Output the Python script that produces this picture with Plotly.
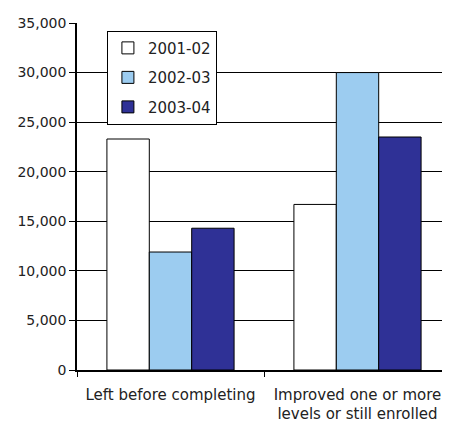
import plotly.graph_objects as go

categories = ["Left before completing", "Improved one or more<br>levels or still enrolled"]
series_names = ["2001-02", "2002-03", "2003-04"]
values_2001 = [23300, 16700]
values_2002 = [11900, 30000]
values_2003 = [14300, 23500]
colors = ["#FFFFFF", "#9CCCF0", "#2F3196"]

fig = go.Figure()
for i, (name, vals) in enumerate(zip(series_names, [values_2001, values_2002, values_2003])):
    fig.add_trace(go.Bar(
        x=categories, y=vals, name=name, legendgroup=name,
        marker=dict(color=colors[i], line=dict(color="#000000", width=1)),
    ))

fig.update_layout(
    width=450, height=425,
    margin=dict(l=69, r=7, t=11, b=63),
    paper_bgcolor="white", plot_bgcolor="white",
    barmode="group", bargap=0.32, bargroupgap=0,
    font=dict(family="DejaVu Sans", size=14, color="#222222"),
    showlegend=True,
    legend=dict(
        x=0.08, y=0.978, xanchor="left", yanchor="top",
        bgcolor="white", bordercolor="black", borderwidth=1,
        font=dict(size=15, color="#222222"),
        traceorder="grouped", tracegroupgap=7, itemwidth=30,
    ),
    xaxis=dict(
        showline=True, linecolor="black", linewidth=1.5,
        ticks="outside", tickson="boundaries", ticklen=5, tickcolor="black",
        showgrid=False, tickfont=dict(size=15), ticklabelstandoff=10,
    ),
    yaxis=dict(
        range=[0, 35000], dtick=5000, tickformat=",",
        showline=True, linecolor="black", linewidth=1.5,
        ticks="outside", ticklen=6, tickcolor="black",
        showgrid=True, gridcolor="black", gridwidth=1,
        zeroline=False,
    ),
)
fig.write_html("out.html")
